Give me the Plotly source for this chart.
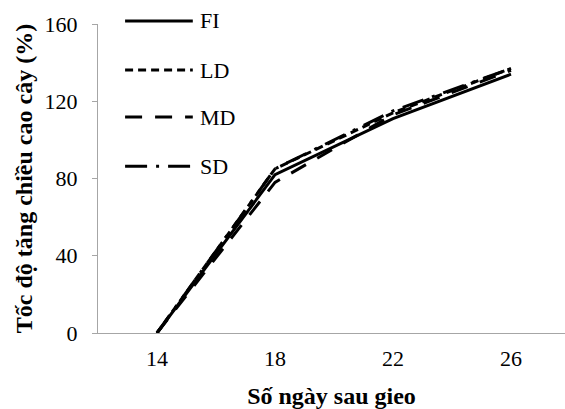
import plotly.graph_objects as go

days = [14, 18, 22, 26]
series_names = ["FI", "LD", "MD", "SD"]
FI = [0, 82, 111, 134]
LD = [0, 85, 114, 137]
MD = [0, 78, 113, 136]
SD = [0, 85, 115, 137]
y_ticks = [0, 40, 80, 120, 160]
x_ticks = [14, 18, 22, 26]

values = [FI, LD, MD, SD]
dashes = ["solid", "8px,5px", "17px,13px", "22px,9px,3px,9px"]

fig = go.Figure()
for name, vals, dash in zip(series_names, values, dashes):
    fig.add_trace(go.Scatter(x=days, y=vals, name=name, mode="lines",
                             line=dict(color="black", width=3, dash=dash)))

font = "Liberation Serif, Times New Roman, serif"

# legend drawn as line samples + labels (paper coordinates)
leg_y = [1.01, 0.851, 0.699, 0.540]
for name, dash, yy in zip(series_names, dashes, leg_y):
    fig.add_shape(type="line", xref="paper", yref="paper", x0=0.058, x1=0.203, y0=yy, y1=yy,
                  line=dict(color="black", width=3, dash=dash))
    fig.add_annotation(xref="paper", yref="paper", x=0.215, y=yy, text=name, showarrow=False,
                       xanchor="left", yanchor="middle", font=dict(family=font, size=22, color="black"))

fig.update_layout(
    width=565, height=409,
    margin=dict(l=98, r=0, t=24, b=76, autoexpand=False),
    paper_bgcolor="white", plot_bgcolor="white",
    font=dict(family=font, size=22, color="black"),
    showlegend=False,
    xaxis=dict(range=[12, 27.83], tickvals=x_ticks, showgrid=False, zeroline=False,
               showline=True, linecolor="#a6a6a6", linewidth=1, ticks="", automargin=False,
               ticklabelstandoff=6, tickfont=dict(family=font, size=22),
               title=dict(text="<b>Số ngày sau gieo</b>", standoff=16, font=dict(family=font, size=24))),
    yaxis=dict(range=[0, 160], tickvals=y_ticks, showgrid=False, zeroline=False,
               showline=True, linecolor="#a6a6a6", linewidth=1, ticks="outside", ticklen=5,
               tickcolor="#a6a6a6", ticklabelstandoff=10, automargin=False,
               tickfont=dict(family=font, size=22),
               title=dict(text="<b>Tốc độ tăng chiều cao cây (%)</b>", standoff=5, font=dict(family=font, size=24))),
)
fig.write_html("out.html", config={"displayModeBar": False},
               post_script="document.body.style.margin='0';document.body.style.overflow='hidden';")
